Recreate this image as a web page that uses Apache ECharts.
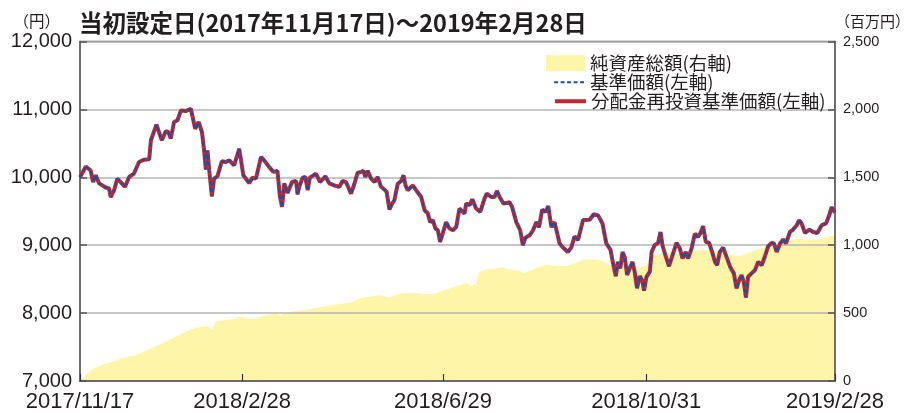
<!DOCTYPE html>
<html>
<head>
<meta charset="utf-8">
<script src="https://cdn.jsdelivr.net/npm/echarts@6/dist/echarts.min.js"></script>
<style>
  html, body { margin: 0; padding: 0; background: #fff; }
  #chart { width: 906px; height: 413px; }
</style>
</head>
<body>
<div id="chart"></div>
<script>
// 横軸は営業日の通し番号（2017/11/17 = 0, 2019/2/28 = 312）
const xTickDays = [0, 67, 150, 234, 312];
const xTickLabels = ["2017/11/17", "2018/2/28", "2018/6/29", "2018/10/31", "2019/2/28"];

// 基準価額（円）
const navDays = [
  0, 2.4, 4.4, 5.4, 6.5, 7.9, 10.6, 12.0, 12.7, 14.1, 15.4, 16.8, 17.5, 18.6, 20.3, 22.3, 24.4, 26.5, 28.6, 29.3,
  31.6, 33.8, 35.5, 36.5, 37.5, 38.9, 40.3, 41.7, 43.7, 45.8, 47.6, 49.0, 50.4, 51.3, 52.0, 52.7, 53.4, 54.5, 55.4, 56.8,
  58.6, 60.3, 61.7, 63.7, 65.8, 67.5, 69.9, 71.3, 72.7, 74.8, 76.1, 78.2, 79.9, 81.6, 82.6, 83.5, 84.4, 85.8, 87.6, 89.3,
  89.9, 90.6, 92.0, 93.1, 94.1, 95.0, 97.5, 99.2, 101.4, 103.0, 105.1, 107.2, 108.5, 109.9, 112.0, 113.4, 114.7, 116.2, 117.1, 117.9,
  118.9, 120.3, 121.7, 123.0, 124.4, 125.8, 126.7, 127.9, 129.0, 129.9, 131.3, 132.7, 133.7, 134.5, 135.4, 137.5, 138.9, 141.0, 142.4, 143.7,
  144.7, 145.8, 146.9, 147.9, 148.8, 149.9, 151.3, 152.7, 154.1, 155.5, 156.8, 158.9, 159.6, 161.0, 162.1, 163.7, 165.4, 167.2, 168.1, 169.9,
  171.3, 172.3, 173.4, 175.0, 176.2, 177.5, 178.6, 180.3, 181.9, 183.0, 184.1, 185.8, 187.2, 188.6, 189.7, 191.0, 192.4, 193.5, 194.8, 196.1,
  198.2, 199.6, 201.6, 203.0, 204.4, 205.8, 207.9, 210.6, 212.3, 214.1, 215.9, 217.5, 219.2, 220.3, 221.4, 222.3, 223.3, 224.2, 225.1, 226.1,
  227.2, 228.3, 229.2, 230.2, 231.3, 232.3, 233.1, 234.1, 235.5, 236.2, 237.5, 238.9, 239.9, 240.7, 242.1, 243.4, 245.1, 246.5, 247.9, 249.0,
  250.3, 251.3, 252.7, 254.1, 255.4, 256.4, 257.5, 258.6, 260.0, 261.4, 262.4, 263.3, 264.4, 265.8, 267.2, 268.8, 270.2, 271.3, 272.4, 273.4,
  274.3, 275.2, 276.1, 277.5, 278.9, 280.3, 281.7, 283.0, 284.4, 285.8, 286.8, 287.9, 289.3, 290.6, 291.7, 293.4, 294.7, 296.2, 297.2, 298.2,
  299.6, 301.4, 303.0, 304.7, 306.5, 308.3, 309.6, 310.6, 311.6, 312
];
const navValues = [
  10000, 10160, 10100, 9930, 10030, 9910, 9850, 9835, 9710, 9810, 9980, 9930, 9955, 9860, 10005, 10055, 10225, 10260, 10265, 10545,
  10775, 10545, 10680, 10665, 10570, 10815, 10840, 10985, 10975, 11010, 10715, 10815, 10665, 10395, 10115, 10395, 10105, 9720, 9980, 10015,
  10235, 10225, 10250, 10175, 10420, 10030, 9915, 9995, 9980, 10300, 10250, 10150, 10080, 10095, 9720, 9565, 9910, 9770, 9930, 9945,
  9750, 9860, 9995, 10005, 9810, 9995, 10055, 9930, 10015, 9910, 9880, 9860, 9945, 9930, 9760, 9905, 10065, 10080, 10095, 10005,
  10095, 9980, 9930, 10005, 9860, 9820, 9785, 9525, 9615, 9660, 9905, 9945, 10030, 9880, 9810, 9880, 9810, 9710, 9515, 9470,
  9340, 9370, 9245, 9220, 9050, 9175, 9340, 9245, 9220, 9270, 9540, 9465, 9615, 9590, 9675, 9540, 9490, 9690, 9760, 9710,
  9710, 9800, 9710, 9615, 9620, 9635, 9560, 9340, 9220, 9000, 9110, 9145, 9220, 9340, 9265, 9525, 9490, 9575, 9265, 9340,
  9025, 8965, 8900, 8965, 9130, 9075, 9370, 9375, 9455, 9440, 9320, 9025, 8935, 8730, 8545, 8755, 8660, 8900, 8830, 8560,
  8660, 8755, 8610, 8365, 8545, 8485, 8330, 8535, 8610, 8900, 9000, 9035, 9195, 9000, 8830, 8690, 8880, 9035, 8950, 8805,
  8900, 8805, 8950, 9170, 9120, 9180, 9280, 9050, 9035, 8880, 8755, 8705, 8900, 8965, 8825, 8670, 8585, 8365, 8485, 8560,
  8460, 8230, 8535, 8585, 8630, 8755, 8705, 8830, 8985, 9035, 9025, 8900, 9025, 9085, 9025, 9195, 9230, 9295, 9370, 9320,
  9180, 9230, 9195, 9180, 9295, 9320, 9440, 9560, 9500, 9485
];
// 分配金再投資基準価額（円）：期間中分配なしのため基準価額と同じ
const reinvestValues = navValues.slice();

// 純資産総額（百万円）
const assetDays = [
  0, 1.7, 3.0, 5.8, 9.2, 13.4, 17.5, 23.0, 28.6, 32.7, 36.8, 39.6, 43.7, 47.9, 52.0, 53.4, 54.5, 56.2, 60.3, 64.4,
  66.1, 68.6, 72.7, 76.8, 81.0, 83.1, 85.1, 89.3, 93.4, 97.5, 103.0, 108.5, 112.0, 115.4, 119.6, 123.7, 127.9, 132.0, 137.5, 141.6,
  145.8, 148.6, 152.7, 156.8, 159.6, 161.7, 163.7, 165.1, 167.9, 172.0, 174.8, 177.5, 181.7, 183.7, 187.2, 192.7, 196.8, 201.0, 205.1, 207.9,
  213.4, 216.1, 218.9, 223.0, 228.5, 231.3, 234.1, 236.8, 239.6, 243.7, 247.9, 253.4, 257.5, 261.6, 265.8, 269.9, 272.7, 275.5, 278.2, 283.7,
  287.9, 293.4, 297.5, 300.3, 305.8, 309.9, 312
];
const assetValues = [
  0, 30, 57, 93, 118, 142, 167, 191, 233, 265, 301, 326, 362, 392, 404, 397, 380, 436, 449, 461,
  473, 461, 461, 485, 498, 483, 502, 517, 522, 539, 554, 571, 576, 608, 620, 632, 615, 645, 649, 640,
  638, 657, 682, 706, 723, 699, 718, 804, 821, 829, 840, 821, 811, 796, 821, 858, 846, 846, 870, 895,
  895, 885, 853, 865, 846, 836, 853, 919, 939, 951, 939, 958, 968, 958, 951, 926, 919, 939, 958, 988,
  1000, 1037, 1049, 1037, 1042, 1066, 1074
];

const seriesNames = ["純資産総額(右軸)", "基準価額(左軸)", "分配金再投資基準価額(左軸)"];

const pairs = (xs, ys) => xs.map((x, i) => [x, ys[i]]);
const commas = (v) => String(v).replace(/\B(?=(\d{3})+(?!\d))/g, ",");

const cjk = "'Noto Sans CJK JP', sans-serif";
const latin = "'Liberation Sans', Arial, sans-serif";
const legendText = { fontFamily: cjk, fontSize: 18.5, color: "#231f20" };

const chart = echarts.init(document.getElementById("chart"));
chart.setOption({
  animation: false,
  title: {
    text: "当初設定日(2017年11月17日)～2019年2月28日",
    left: 74,
    top: 6,
    textStyle: { fontFamily: cjk, fontSize: 23.5, fontWeight: "bold", color: "#231f20" },
  },
  legend: [
    {
      data: [{ name: seriesNames[0], icon: "rect" }],
      left: 541, top: 49, itemWidth: 39, itemHeight: 16,
      selectedMode: false,
      textStyle: legendText,
    },
    {
      data: [seriesNames[1]],
      left: 548, top: 68, itemWidth: 31, itemHeight: 16,
      selectedMode: false,
      itemStyle: { opacity: 0 },
      lineStyle: { width: 2.2 },
      textStyle: legendText,
    },
    {
      data: [seriesNames[2]],
      left: 548, top: 87, itemWidth: 31, itemHeight: 16,
      selectedMode: false,
      itemStyle: { opacity: 0 },
      lineStyle: { width: 4 },
      textStyle: legendText,
    },
  ],
  grid: {
    left: 80, right: 71, top: 41.5, bottom: 32,
    outerBoundsMode: "none",
    show: true, borderColor: "#666", borderWidth: 1.5, backgroundColor: "transparent",
  },
  xAxis: {
    type: "value",
    min: 0,
    max: 312,
    axisLine: { lineStyle: { color: "#555", width: 1.5 } },
    axisTick: { inside: true, length: 7, customValues: xTickDays, lineStyle: { color: "#333", width: 1.2 } },
    axisLabel: {
      customValues: xTickDays,
      formatter: (v) => xTickLabels[xTickDays.indexOf(v)] || "",
      fontFamily: latin, fontSize: 22, color: "#231f20", margin: 10,
      showMinLabel: true, showMaxLabel: true, hideOverlap: false,
    },
    splitLine: { show: false },
  },
  yAxis: [
    {
      type: "value",
      min: 7000, max: 12000, interval: 1000,
      name: "（円）",
      nameLocation: "end",
      nameGap: 13,
      nameTextStyle: { fontFamily: cjk, fontSize: 15.5, color: "#231f20", align: "right", padding: [0, 20, 0, 0] },
      axisLine: { show: true, lineStyle: { color: "#666", width: 1.5 } },
      axisTick: { show: true, inside: true, length: 7, lineStyle: { color: "#555", width: 1.5 } },
      axisLabel: { formatter: commas, fontFamily: latin, fontSize: 20, color: "#231f20", margin: 8 },
      splitLine: { lineStyle: { color: "#b5b5b5", width: 1.5 } },
    },
    {
      type: "value",
      min: 0, max: 2500, interval: 500,
      name: "（百万円）",
      nameLocation: "end",
      nameGap: 13,
      nameTextStyle: { fontFamily: cjk, fontSize: 15, color: "#231f20", align: "left", padding: [0, 0, 0, 0] },
      axisLine: { show: true, lineStyle: { color: "#666", width: 1.5 } },
      axisTick: { show: true, inside: true, length: 7, lineStyle: { color: "#555", width: 1.5 } },
      axisLabel: { formatter: commas, fontFamily: latin, fontSize: 14.5, color: "#231f20", margin: 8 },
      splitLine: { show: false },
    },
  ],
  series: [
    {
      name: seriesNames[0],
      type: "line",
      yAxisIndex: 1,
      data: pairs(assetDays, assetValues),
      symbol: "none",
      z: -1,
      itemStyle: { color: "#fff5a8" },
      lineStyle: { width: 0, color: "#fff5a8" },
      areaStyle: { color: "#fff5a8", opacity: 1 },
    },
    {
      name: seriesNames[2],
      type: "line",
      yAxisIndex: 0,
      data: pairs(navDays, reinvestValues),
      symbol: "none",
      itemStyle: { color: "#c4262e" },
      lineStyle: { width: 4, color: "#c4262e" },
    },
    {
      name: seriesNames[1],
      type: "line",
      yAxisIndex: 0,
      data: pairs(navDays, navValues),
      symbol: "none",
      itemStyle: { color: "#1f4f9f" },
      lineStyle: { width: 2.2, color: "#1f4f9f", type: [4, 2.5] },
    },
  ],
});
</script>
</body>
</html>
